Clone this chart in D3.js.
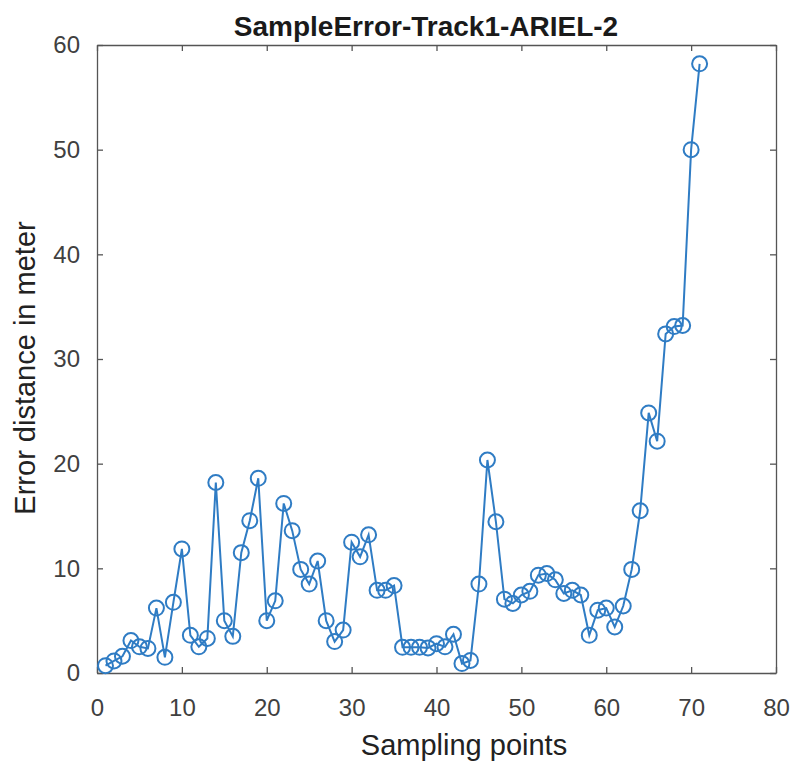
<!DOCTYPE html>
<html>
<head>
<meta charset="utf-8">
<script src="https://cdn.jsdelivr.net/npm/d3@7"></script>
<style>
  body { margin: 0; background: #fff; }
  svg { display: block; font-family: "Liberation Sans", Arial, sans-serif; }
</style>
</head>
<body>
<div id="chart"></div>
<script>
const width = 792;
const height = 762;

// sample index 1..71 and measured error (m)
const samples = d3.range(1, 72);
const errors = [
    0.7, 1.15, 1.6, 3.1, 2.5, 2.35, 6.2, 1.5, 6.75, 11.85,
    3.6, 2.5, 3.3, 18.2, 5.0, 3.5, 11.5, 14.55, 18.6, 5.0,
    6.9, 16.2, 13.6, 9.9, 8.5, 10.7, 5.0, 3.0, 4.1, 12.5,
    11.1, 13.2, 7.9, 7.9, 8.35, 2.45, 2.45, 2.45, 2.4, 2.8,
    2.5, 3.7, 0.9, 1.2, 8.5, 20.35, 14.45, 7.05, 6.65, 7.45,
    7.8, 9.35, 9.5, 8.9, 7.6, 7.9, 7.45, 3.6, 6.0, 6.2,
    4.4, 6.4, 9.9, 15.5, 24.85, 22.15, 32.4, 33.1, 33.2, 50.0,
    58.2
];
const xTicks = [0, 10, 20, 30, 40, 50, 60, 70, 80];
const yTicks = [0, 10, 20, 30, 40, 50, 60];

const margin = {top: 45, right: 16, bottom: 89, left: 97};
const blue = "#2f7cc4";
const grey = "#404040";

const svg = d3.select("#chart").append("svg")
    .attr("width", width)
    .attr("height", height);

const x = d3.scaleLinear().domain([0, 80]).range([margin.left, width - margin.right]);
const y = d3.scaleLinear().domain([0, 60]).range([height - margin.bottom, margin.top]);

// axes (inward ticks, like matlab)
const axisStyle = g => {
    g.selectAll("path").attr("stroke", "#555").attr("stroke-width", 1.3);
    g.selectAll("line").attr("stroke", "#555").attr("stroke-width", 1.3);
    g.selectAll("text").attr("fill", grey).style("font-size", "24px");
};

svg.append("g")
    .attr("transform", `translate(0,${y(0)})`)
    .call(d3.axisBottom(x).tickValues(xTicks).tickSizeInner(-6).tickSizeOuter(0).tickPadding(26))
    .call(axisStyle);

svg.append("g")
    .attr("transform", `translate(0,${y(60)})`)
    .call(d3.axisTop(x).tickValues(xTicks).tickSizeInner(-6).tickSizeOuter(0).tickFormat(""))
    .call(axisStyle);

svg.append("g")
    .attr("transform", `translate(${x(0)},0)`)
    .call(d3.axisLeft(y).tickValues(yTicks).tickSizeInner(-6).tickSizeOuter(0).tickPadding(17))
    .call(axisStyle);

svg.append("g")
    .attr("transform", `translate(${x(80)},0)`)
    .call(d3.axisRight(y).tickValues(yTicks).tickSizeInner(-6).tickSizeOuter(0).tickFormat(""))
    .call(axisStyle);

const line = d3.line()
    .x((d, i) => x(samples[i]))
    .y(d => y(d));

svg.append("path")
    .datum(errors)
    .attr("fill", "none")
    .attr("stroke", blue)
    .attr("stroke-width", 2)
    .attr("d", line);

svg.append("g")
    .selectAll("circle")
    .data(errors)
    .join("circle")
    .attr("cx", (d, i) => x(samples[i]))
    .attr("cy", d => y(d))
    .attr("r", 7.5)
    .attr("fill", "none")
    .attr("stroke", blue)
    .attr("stroke-width", 2);

svg.append("text")
    .attr("x", 426)
    .attr("y", 36)
    .attr("text-anchor", "middle")
    .style("font-size", "28px")
    .style("font-weight", "bold")
    .attr("fill", "#1a1a1a")
    .text("SampleError-Track1-ARIEL-2");

svg.append("text")
    .attr("x", 464)
    .attr("y", 755)
    .attr("text-anchor", "middle")
    .style("font-size", "29px")
    .attr("fill", "#222")
    .text("Sampling points");

svg.append("text")
    .attr("transform", `translate(35,368) rotate(-90)`)
    .attr("text-anchor", "middle")
    .style("font-size", "29px")
    .attr("fill", "#222")
    .text("Error distance in meter");
</script>
</body>
</html>
